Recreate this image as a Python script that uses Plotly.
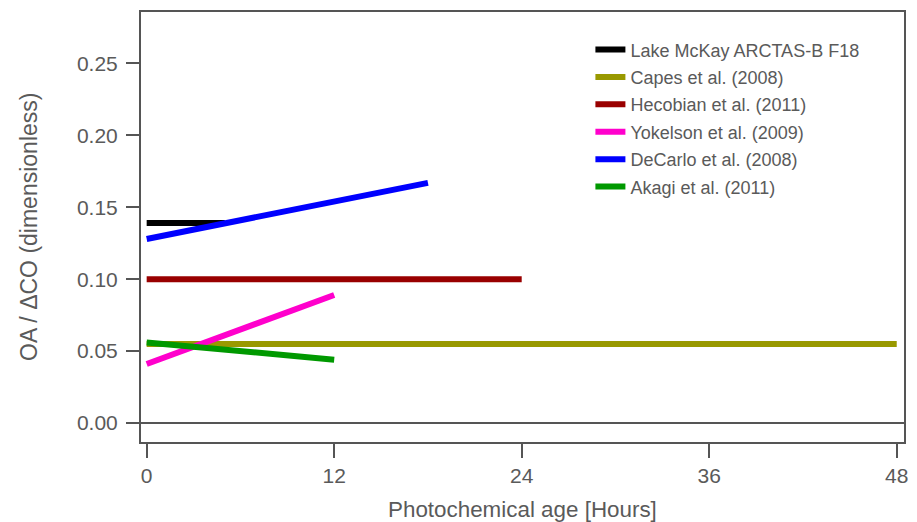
import plotly.graph_objects as go

# Data
series_names = [
    "Lake McKay ARCTAS-B F18",
    "Capes et al. (2008)",
    "Hecobian et al. (2011)",
    "Yokelson et al. (2009)",
    "DeCarlo et al. (2008)",
    "Akagi et al. (2011)",
]
series_colors = ["#000000", "#999900", "#990000", "#ff00cc", "#0000ff", "#009900"]
lake_x = [0, 5]
lake_y = [0.139, 0.139]
capes_x = [0, 48]
capes_y = [0.055, 0.055]
hecobian_x = [0, 24]
hecobian_y = [0.100, 0.100]
yokelson_x = [0, 12]
yokelson_y = [0.041, 0.089]
decarlo_x = [0, 18]
decarlo_y = [0.128, 0.167]
akagi_x = [0, 12]
akagi_y = [0.056, 0.044]

xs = [lake_x, capes_x, hecobian_x, yokelson_x, decarlo_x, akagi_x]
ys = [lake_y, capes_y, hecobian_y, yokelson_y, decarlo_y, akagi_y]

x_ticks = [0, 12, 24, 36, 48]
y_ticks = [0.00, 0.05, 0.10, 0.15, 0.20, 0.25]

FONT = "Liberation Sans, Arial, sans-serif"
AXC = "#555555"
TXC = "#5a5a5a"

fig = go.Figure()
for i, (name, col, x, y) in enumerate(zip(series_names, series_colors, xs, ys)):
    fig.add_trace(go.Scatter(
        x=x, y=y, mode="lines", name=name,
        line=dict(color=col, width=6),
        legendgroup=f"g{i}",
    ))

fig.update_layout(
    width=917, height=522,
    margin=dict(l=141, r=9, t=12, b=80),
    paper_bgcolor="white", plot_bgcolor="white",
    font=dict(family=FONT, color=TXC),
    showlegend=True,
    legend=dict(
        x=0.589, y=0.955, xanchor="left", yanchor="top",
        font=dict(size=18, color=TXC, family=FONT),
        bgcolor="rgba(0,0,0,0)", borderwidth=0,
        traceorder="grouped", tracegroupgap=1,
    ),
    xaxis=dict(
        range=[-0.363, 48.465], tickvals=x_ticks, ticktext=[str(v) for v in x_ticks],
        showgrid=False, zeroline=False,
        showline=True, mirror=True, linecolor=AXC, linewidth=2,
        ticks="outside", ticklen=14, tickwidth=2, tickcolor=AXC,
        tickfont=dict(size=21, color=TXC, family=FONT),
        ticklabelstandoff=0,
    ),
    yaxis=dict(
        range=[-0.0132, 0.2858], tickvals=y_ticks,
        ticktext=[f"{v:.2f}" for v in y_ticks],
        showgrid=False, zeroline=True, zerolinecolor=AXC, zerolinewidth=2,
        showline=True, mirror=True, linecolor=AXC, linewidth=2,
        ticks="outside", ticklen=13, tickwidth=2, tickcolor=AXC,
        tickfont=dict(size=21, color=TXC, family=FONT),
        ticklabelstandoff=4,
    ),
    annotations=[
        dict(text="Photochemical age [Hours]", xref="paper", yref="paper",
             x=0.5, y=0, yshift=-67, xanchor="center", yanchor="middle",
             showarrow=False, font=dict(size=22.4, color=TXC, family=FONT)),
        dict(text="OA / ΔCO (dimensionless)", xref="paper", yref="paper",
             x=0, y=0.5, xshift=-112, xanchor="center", yanchor="middle",
             textangle=-90, showarrow=False,
             font=dict(size=23, color=TXC, family=FONT)),
    ],
)

fig.write_html(
    "out.html",
    config={"displayModeBar": False},
    post_script="document.body.style.margin='0';document.body.style.overflow='hidden';",
)
